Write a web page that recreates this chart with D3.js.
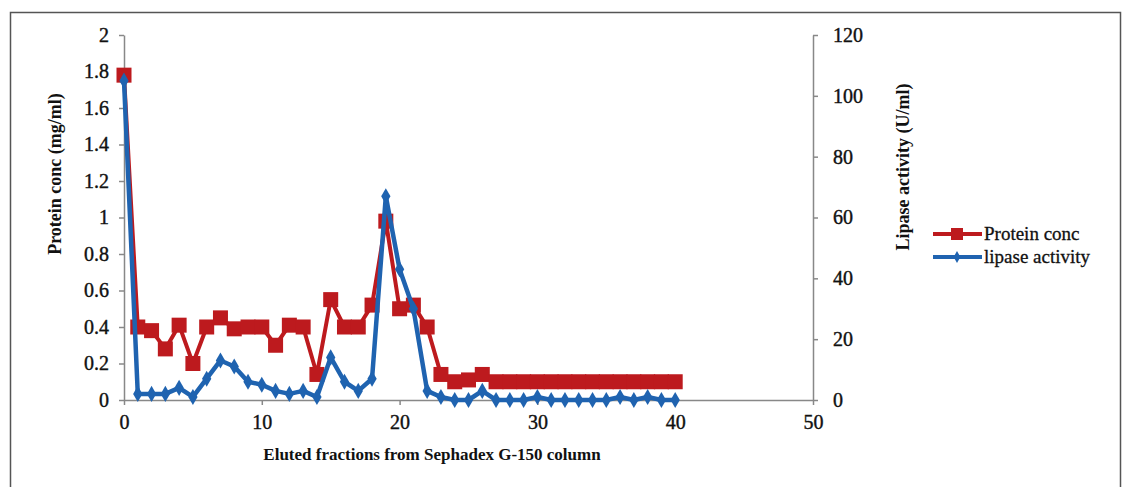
<!DOCTYPE html>
<html>
<head>
<meta charset="utf-8">
<script src="https://cdn.jsdelivr.net/npm/d3@7"></script>
<style>
  body { margin: 0; background: #fff; }
  svg text { font-family: "Liberation Serif", "Times New Roman", serif; fill: #111; }
</style>
</head>
<body>
<svg id="chart" width="1124" height="487"></svg>
<script>
// fraction numbers
const fractions = d3.range(0, 41);

// protein conc (mg/ml), left axis
const proteinConc = [1.78, 0.40, 0.38, 0.28, 0.41, 0.20, 0.40, 0.45, 0.39, 0.40,
  0.40, 0.30, 0.41, 0.40, 0.14, 0.55, 0.40, 0.40, 0.52, 0.98,
  0.50, 0.52, 0.40, 0.14, 0.10, 0.11, 0.14, 0.10, 0.10, 0.10,
  0.10, 0.10, 0.10, 0.10, 0.10, 0.10, 0.10, 0.10, 0.10, 0.10, 0.10];

// lipase activity (U/ml), right axis
const lipaseActivity = [105, 2, 2, 2, 4, 1, 7, 13, 11, 6,
  5, 3, 2, 3, 1, 14, 6, 3, 7, 67,
  43, 30, 3, 1, 0, 0, 3, 0, 0, 0,
  1, 0, 0, 0, 0, 0, 1, 0, 1, 0, 0];

const xTicks = [0, 10, 20, 30, 40, 50];
const leftTicks = [0, 0.2, 0.4, 0.6, 0.8, 1, 1.2, 1.4, 1.6, 1.8, 2];
const rightTicks = [0, 20, 40, 60, 80, 100, 120];

const RED = "#bd1a1e";
const BLUE = "#1f63b0";
const AXIS = "#888";

const svg = d3.select("#chart");
const plot = { left: 124, right: 813, top: 35, bottom: 400 };

// outer frame
svg.append("rect")
    .attr("x", 10.5).attr("y", 12.5)
    .attr("width", 1110).attr("height", 500)
    .attr("fill", "none")
    .attr("stroke", "#555")
    .attr("stroke-width", 1.5);

const x = d3.scaleLinear().domain([0, 50]).range([plot.left, plot.right]);
const yL = d3.scaleLinear().domain([0, 2]).range([plot.bottom, plot.top]);
const yR = d3.scaleLinear().domain([0, 120]).range([plot.bottom, plot.top]);

function styleAxis(g) {
    g.select(".domain").attr("stroke", AXIS).attr("stroke-width", 1.5);
    g.selectAll(".tick line").attr("stroke", AXIS).attr("stroke-width", 1.5);
    g.selectAll(".tick text")
        .style("font-size", "20px")
        .style("font-family", "Liberation Serif, serif")
        .attr("fill", "#111")
        .attr("stroke", "#111")
        .attr("stroke-width", 0.4);
}

svg.append("g")
    .attr("transform", `translate(0,${plot.bottom})`)
    .call(d3.axisBottom(x).tickValues(xTicks).tickSize(5).tickSizeOuter(0).tickPadding(10))
    .call(styleAxis);

svg.append("g")
    .attr("transform", `translate(${plot.left},0)`)
    .call(d3.axisLeft(yL).tickValues(leftTicks).tickFormat(d3.format("~g")).tickSize(5).tickSizeOuter(0).tickPadding(10))
    .call(styleAxis);

svg.append("g")
    .attr("transform", `translate(${plot.right},0)`)
    .call(d3.axisRight(yR).tickValues(rightTicks).tickSize(5).tickSizeOuter(0).tickPadding(15))
    .call(styleAxis);

// axis titles
svg.append("text")
    .attr("x", 432)
    .attr("y", 460)
    .attr("text-anchor", "middle")
    .style("font-size", "17px")
    .style("font-weight", "bold")
    .text("Eluted fractions from Sephadex G-150 column");

svg.append("text")
    .attr("transform", "translate(61,174) rotate(-90)")
    .attr("text-anchor", "middle")
    .style("font-size", "18px")
    .style("font-weight", "bold")
    .text("Protein conc (mg/ml)");

svg.append("text")
    .attr("transform", "translate(909,167) rotate(-90)")
    .attr("text-anchor", "middle")
    .style("font-size", "18px")
    .style("font-weight", "bold")
    .text("Lipase activity (U/ml)");

// series
const redLine = d3.line().x((d, i) => x(fractions[i])).y(d => yL(d));
const blueLine = d3.line().x((d, i) => x(fractions[i])).y(d => yR(d));

svg.append("path")
    .datum(proteinConc)
    .attr("fill", "none")
    .attr("stroke", RED)
    .attr("stroke-width", 4)
    .attr("stroke-linejoin", "round")
    .attr("d", redLine);

const SQ = 15;
svg.append("g").selectAll("rect")
    .data(proteinConc)
    .join("rect")
    .attr("x", (d, i) => x(fractions[i]) - SQ / 2)
    .attr("y", d => yL(d) - SQ / 2)
    .attr("width", SQ)
    .attr("height", SQ)
    .attr("fill", RED);

svg.append("path")
    .datum(lipaseActivity)
    .attr("fill", "none")
    .attr("stroke", BLUE)
    .attr("stroke-width", 4.5)
    .attr("stroke-linejoin", "round")
    .attr("d", blueLine);

const diamond = d3.symbol().type(d3.symbolDiamond).size(75);
svg.append("g").selectAll("path")
    .data(lipaseActivity)
    .join("path")
    .attr("transform", (d, i) => `translate(${x(fractions[i])},${yR(d)})`)
    .attr("d", diamond)
    .attr("fill", BLUE);

// legend
const legend = [
    { name: "Protein conc", color: RED, marker: "square", y: 234 },
    { name: "lipase activity", color: BLUE, marker: "diamond", y: 257 }
];
const lg = svg.append("g");
legend.forEach(l => {
    lg.append("line")
        .attr("x1", 933).attr("x2", 982)
        .attr("y1", l.y).attr("y2", l.y)
        .attr("stroke", l.color).attr("stroke-width", 4);
    if (l.marker === "square") {
        lg.append("rect")
            .attr("x", 951).attr("y", l.y - 6)
            .attr("width", 12).attr("height", 12)
            .attr("fill", l.color);
    } else {
        lg.append("path")
            .attr("transform", `translate(957,${l.y})`)
            .attr("d", d3.symbol().type(d3.symbolDiamond).size(40))
            .attr("fill", l.color);
    }
    lg.append("text")
        .attr("x", 984).attr("y", l.y + 6)
        .style("font-size", "19px")
        .attr("stroke", "#111")
        .attr("stroke-width", 0.3)
        .text(l.name);
});
</script>
</body>
</html>
